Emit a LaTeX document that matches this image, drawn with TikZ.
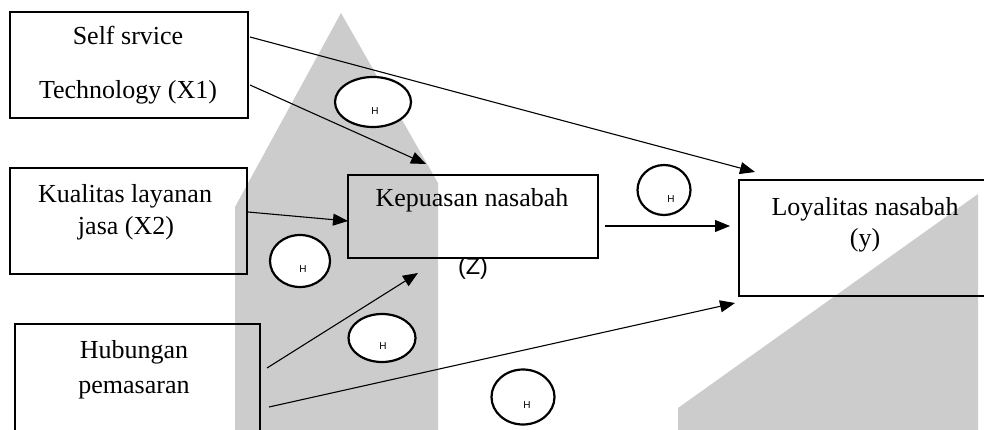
\documentclass[tikz,border=0pt]{standalone}
\usepackage{fontspec}
\setmainfont{Liberation Serif}
\newfontfamily\hsans{Liberation Sans}
\usetikzlibrary{arrows.meta,shapes.geometric}
\definecolor{wmgray}{RGB}{204,204,204}
\begin{document}
\begin{tikzpicture}[x=1pt,y=-1pt,
  box/.style={draw,line width=2.2pt,rectangle,inner sep=0pt,anchor=north west},
  lbl/.style={anchor=base,inner sep=0pt,font=\fontsize{26}{30}\selectfont},
  hyp/.style={draw,fill=white,line width=2.2pt,ellipse,inner sep=0pt},
  hmark/.style={inner sep=0pt,font=\hsans\fontsize{10}{12}\selectfont},
  link/.style={line width=1.1pt,-{Triangle[length=15pt,width=12pt]}}]
\useasboundingbox (0,0) rectangle (984,430);
\begin{scope}
\clip (0,0) rectangle (984,430);
% background shapes
\fill[wmgray] (235,430) -- (235,207) -- (341,13) -- (438,183) -- (438,430) -- cycle;
\fill[wmgray] (678,430) -- (678,408) -- (978,194) -- (978,430) -- cycle;

% variable boxes
\node[box,minimum width=238pt,minimum height=106pt] (x1) at (9,11) {};
\node[box,minimum width=237pt,minimum height=106pt] (x2) at (9,167) {};
\node[box,minimum width=245pt,minimum height=130pt] (x3) at (14,323) {};
\node[box,minimum width=250pt,minimum height=83pt] (z) at (347,174) {};
\node[box,minimum width=260pt,minimum height=116pt] (y) at (738,179) {};

\node[lbl] (x1a) at (128,45) {Self srvice};
\node[lbl] (x1b) at (128,99) {Technology (X1)};
\node[lbl] (x2a) at (125,203) {Kualitas layanan};
\node[lbl] (x2b) at (126,235) {jasa (X2)};
\node[lbl] (x3a) at (134,358) {Hubungan};
\node[lbl] (x3b) at (134,393) {pemasaran};
\node[lbl] (za) at (472,207) {Kepuasan nasabah};
\node[inner sep=0pt,font=\hsans\fontsize{23.5}{26}\selectfont] (zb) at (473,268) {(Z)};
\node[lbl] (ya) at (865,215) {Loyalitas nasabah};
\node[lbl] (yb) at (865,247) {(y)};

% hypothesis ellipses
\node[hyp,minimum width=76pt,minimum height=50pt] (e1) at (373,102) {};
\node[hyp,minimum width=60pt,minimum height=52pt] (e2) at (300,261) {};
\node[hyp,minimum width=67pt,minimum height=48pt] (e3) at (382,338) {};
\node[hyp,minimum width=53pt,minimum height=50pt] (e4) at (664,190) {};
\node[hyp,minimum width=63pt,minimum height=55pt] (e5) at (523,397) {};
\node[hmark] (h1) at (375,111) {H};
\node[hmark] (h2) at (303,269) {H};
\node[hmark] (h3) at (383,346) {H};
\node[hmark] (h4) at (671,199) {H};
\node[hmark] (h5) at (527,405) {H};

% path end points
\coordinate (s1) at (250,37);
\coordinate (t1) at (755,172);
\coordinate (s2) at (250,85);
\coordinate (t2) at (426,164);
\coordinate (s3) at (248,212);
\coordinate (t3) at (348,221);
\coordinate (s4) at (267,368);
\coordinate (t4) at (418,273);
\coordinate (s5) at (269,407);
\coordinate (t5) at (735,303);
\coordinate (s6) at (605,226);
\coordinate (t6) at (730,226);

\draw[link] (s1) -- (t1);
\draw[link] (s2) -- (t2);
\draw[link] (s3) -- (t3);
\draw[link] (s4) -- (t4);
\draw[link] (s5) -- (t5);
\draw[link] (s6) -- (t6);
\end{scope}
\end{tikzpicture}
\end{document}
